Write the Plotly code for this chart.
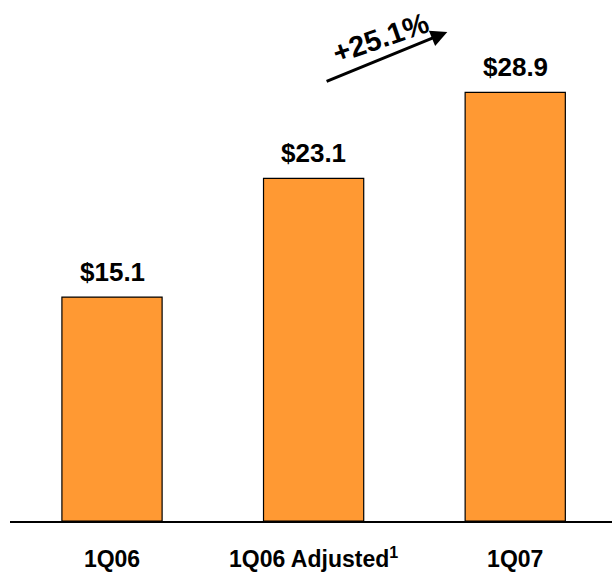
import plotly.graph_objects as go

categories = ["1Q06", "1Q06 Adjusted", "1Q07"]
tick_labels = ["<b>1Q06</b>", "<b>1Q06 Adjusted<sup>1</sup></b>", "<b>1Q07</b>"]
values = [15.1, 23.1, 28.9]
value_labels = ["$15.1", "$23.1", "$28.9"]
growth_label = "+25.1%"

fig = go.Figure()
fig.add_trace(go.Bar(
    x=categories, y=values, width=0.497,
    marker=dict(color="#FF9933", line=dict(color="#000000", width=1.2)),
    hoverinfo="skip",
))

for c, v, t in zip(categories, values, value_labels):
    fig.add_annotation(x=c, y=v, text="<b>%s</b>" % t, showarrow=False,
                       yanchor="middle", yshift=25,
                       font=dict(family="Liberation Sans", size=26, color="#000000"))

# growth arrow
fig.add_annotation(x=1.663, y=32.97, ax=1.057, ay=29.6, xref="x", yref="y",
                   axref="x", ayref="y", text="", showarrow=True,
                   arrowhead=2, arrowsize=1.1, arrowwidth=3, arrowcolor="#000000")
fig.add_annotation(x=1.33, y=32.6, xref="x", yref="y", text="<b>%s</b>" % growth_label,
                   showarrow=False, textangle=-19,
                   font=dict(family="Liberation Sans", size=29, color="#000000"))

fig.update_layout(
    width=612, height=577,
    margin=dict(l=10, r=0, t=0, b=56),
    paper_bgcolor="white", plot_bgcolor="white",
    showlegend=False,
    xaxis=dict(range=[-0.506, 2.48], tickmode="array", tickvals=categories,
               ticktext=tick_labels, showline=True, linecolor="#000000", linewidth=1.5,
               ticks="", ticklabelstandoff=17, showgrid=False, zeroline=False,
               tickfont=dict(family="Liberation Sans", size=23, color="#000000")),
    yaxis=dict(range=[0, 35.13], visible=False, showgrid=False, zeroline=False),
)

fig.write_html("out.html")
